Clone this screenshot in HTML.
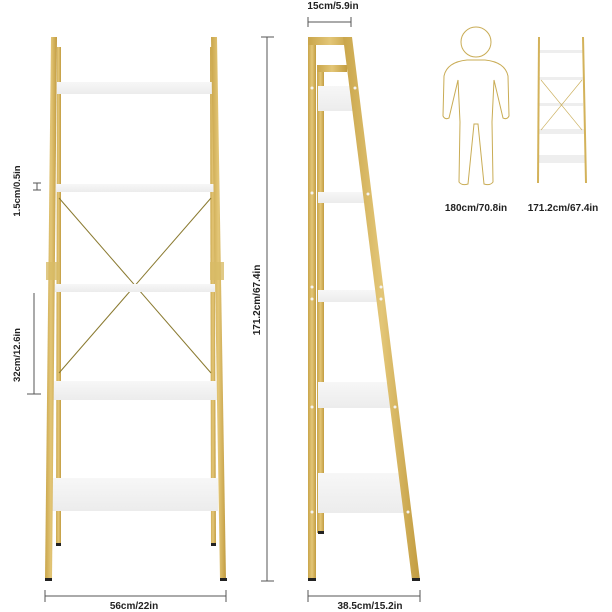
<!DOCTYPE html>
<html><head><meta charset="utf-8"><style>
html,body{margin:0;padding:0;background:#fff;width:612px;height:612px;overflow:hidden}
svg{display:block}
text{font-family:"Liberation Sans",sans-serif;font-weight:bold;fill:#222}
</style></head><body>
<svg width="612" height="612" viewBox="0 0 612 612" xmlns="http://www.w3.org/2000/svg">
<defs>
<linearGradient id="g" x1="0" x2="1"><stop offset="0" stop-color="#c9a54a"/><stop offset="0.5" stop-color="#e3c677"/><stop offset="1" stop-color="#c29c40"/></linearGradient>
<linearGradient id="sh" x1="0" y1="0" x2="0" y2="1"><stop offset="0" stop-color="#f7f7f7"/><stop offset="1" stop-color="#ececec"/></linearGradient>
</defs>
<!-- FRONT VIEW -->
<!-- inner legs -->
<polygon points="57,47 61,47 61,545 56,545" fill="url(#g)"/>
<polygon points="210,47 214,47 216,545 211,545" fill="url(#g)"/>
<rect x="56" y="543" width="5" height="3" fill="#222"/>
<rect x="211" y="543" width="5" height="3" fill="#222"/>
<!-- X brace -->
<line x1="59" y1="198" x2="211" y2="373" stroke="#8a7a30" stroke-width="1"/>
<line x1="211" y1="198" x2="59" y2="373" stroke="#8a7a30" stroke-width="1"/>
<!-- shelves -->
<rect x="57" y="82" width="158" height="12" fill="url(#sh)"/>
<rect x="56" y="184" width="159" height="8" fill="url(#sh)"/>
<rect x="55" y="284" width="161" height="8" fill="url(#sh)"/>
<rect x="53" y="381" width="164" height="19" fill="url(#sh)"/>
<rect x="52" y="478" width="166" height="33" fill="url(#sh)"/>
<!-- outer legs -->
<polygon points="51,37 57,37 52,580 45,580" fill="url(#g)"/>
<polygon points="211,37 217,37 226,580 220,580" fill="url(#g)"/>
<rect x="45" y="578" width="7" height="3" fill="#222"/>
<rect x="220" y="578" width="7" height="3" fill="#222"/>
<rect x="46" y="262" width="14" height="18" fill="#d8bb66" opacity="0.8"/>
<rect x="210" y="262" width="14" height="18" fill="#d8bb66" opacity="0.8"/>
<!-- dimension lines front -->
<g stroke="#555" stroke-width="1" fill="none">
<line x1="267" y1="37" x2="267" y2="581"/><line x1="261" y1="37" x2="274" y2="37"/><line x1="261" y1="581" x2="274" y2="581"/>
<line x1="45" y1="596" x2="226" y2="596"/><line x1="45" y1="590" x2="45" y2="602"/><line x1="226" y1="590" x2="226" y2="602"/>
<line x1="34" y1="293" x2="34" y2="394"/><line x1="27" y1="394" x2="41" y2="394"/>
<line x1="33" y1="183" x2="41" y2="183"/><line x1="33" y1="190" x2="41" y2="190"/><line x1="37" y1="183" x2="37" y2="190"/>
</g>
<text x="0" y="0" font-size="10" text-anchor="middle" transform="translate(260,300) rotate(-90)">171.2cm/67.4in</text>
<text x="134" y="609" font-size="10" text-anchor="middle">56cm/22in</text>
<text x="0" y="0" font-size="9.5" text-anchor="middle" transform="translate(20,191) rotate(-90)">1.5cm/0.5in</text>
<text x="0" y="0" font-size="9.5" text-anchor="middle" transform="translate(20,355) rotate(-90)">32cm/12.6in</text>
<!-- SIDE VIEW -->
<rect x="317" y="65" width="7" height="468" fill="url(#g)"/>
<rect x="317" y="65" width="30" height="7" fill="url(#g)"/>
<rect x="318" y="531" width="6" height="3" fill="#222"/>
<rect x="318" y="86" width="35" height="25" fill="url(#sh)"/>
<rect x="318" y="192" width="48" height="11" fill="url(#sh)"/>
<rect x="318" y="290" width="61" height="12" fill="url(#sh)"/>
<rect x="318" y="382" width="75" height="26" fill="url(#sh)"/>
<rect x="318" y="473" width="88" height="40" fill="url(#sh)"/>
<rect x="308" y="37" width="8" height="543" fill="url(#g)"/>
<rect x="308" y="37" width="44" height="8" fill="url(#g)"/>
<polygon points="343,37 352,37 420,580 412,580" fill="url(#g)"/>
<rect x="308" y="578" width="8" height="3" fill="#222"/>
<rect x="412" y="578" width="8" height="3" fill="#222"/>
<g fill="#f4f4f4">
<circle cx="312" cy="88" r="1.5"/><circle cx="355" cy="88" r="1.5"/><circle cx="312" cy="193" r="1.5"/><circle cx="368" cy="194" r="1.5"/>
<circle cx="312" cy="287" r="1.5"/><circle cx="312" cy="299" r="1.5"/><circle cx="381" cy="287" r="1.5"/><circle cx="381" cy="299" r="1.5"/>
<circle cx="312" cy="407" r="1.5"/><circle cx="395" cy="407" r="1.5"/><circle cx="312" cy="512" r="1.5"/><circle cx="408" cy="512" r="1.5"/>
</g>
<g stroke="#555" stroke-width="1" fill="none">
<line x1="308" y1="22" x2="351" y2="22"/><line x1="308" y1="17" x2="308" y2="27"/><line x1="351" y1="17" x2="351" y2="27"/>
<line x1="308" y1="596" x2="420" y2="596"/><line x1="308" y1="590" x2="308" y2="602"/><line x1="420" y1="590" x2="420" y2="602"/>
</g>
<text x="333" y="9" font-size="10" text-anchor="middle">15cm/5.9in</text>
<text x="370" y="609" font-size="10" text-anchor="middle">38.5cm/15.2in</text>
<!-- HUMAN -->
<g fill="none" stroke="#c9ac55" stroke-width="1">
<circle cx="476" cy="42" r="15"/>
<path d="M467,60 L485,60 Q505,62 508,76 L509,116 Q507,120 503,118 L494,80 L492,122 L493,182 Q490,186 484,184 L478,124 L474,124 L468,184 Q462,186 459,182 L460,122 L458,80 L449,118 Q445,120 443,116 L444,76 Q447,62 467,60 Z"/>
</g>
<text x="476" y="211" font-size="10" text-anchor="middle">180cm/70.8in</text>
<!-- small shelf -->
<rect x="539" y="50" width="44" height="3" fill="#eee"/>
<rect x="539" y="77" width="44" height="3" fill="#eee"/>
<rect x="539" y="103" width="44" height="3" fill="#eee"/>
<rect x="539" y="129" width="45" height="5" fill="#eee"/>
<rect x="539" y="155" width="46" height="8" fill="#eee"/>
<line x1="541" y1="80" x2="582" y2="130" stroke="#c9ac55" stroke-width="0.6"/>
<line x1="582" y1="80" x2="541" y2="130" stroke="#c9ac55" stroke-width="0.6"/>
<polygon points="538,37 540,37 539,183 537,183" fill="#d3b25a"/>
<polygon points="582,37 584,37 587,183 585,183" fill="#d3b25a"/>
<text x="563" y="211" font-size="10" text-anchor="middle">171.2cm/67.4in</text>
</svg>
</body></html>
